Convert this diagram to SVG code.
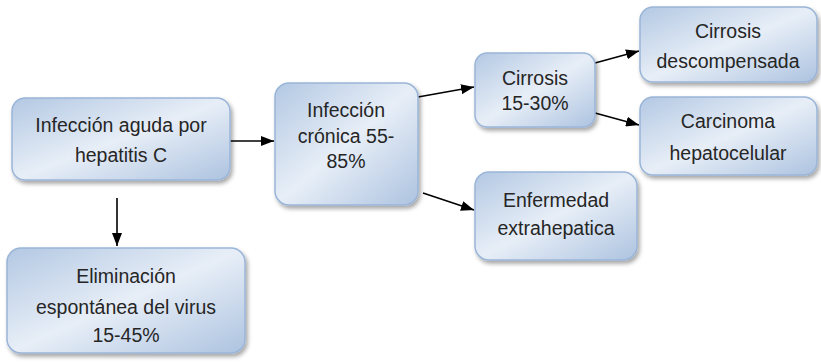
<svg xmlns="http://www.w3.org/2000/svg" width="821" height="363" viewBox="0 0 821 363">
<style>
.box{fill:url(#g);stroke:#9ab5d8;stroke-width:1.5;filter:url(#sh)}
.t{font-family:"Liberation Sans",Arial,sans-serif;font-size:19.5px;fill:#262626;text-anchor:middle}
.c{stroke:#000;stroke-width:1.6;fill:none;marker-end:url(#ah)}
</style>
<defs>
<linearGradient id="g" x1="0" y1="0" x2="1" y2="1">
<stop offset="0" stop-color="#b3c8e3"/>
<stop offset="0.5" stop-color="#e7eef7"/>
<stop offset="1" stop-color="#adc3e0"/>
</linearGradient>
<filter id="sh" x="-10%" y="-10%" width="125%" height="130%">
<feDropShadow dx="2" dy="3" stdDeviation="2" flood-color="#000" flood-opacity="0.35"/>
</filter>
<marker id="ah" markerWidth="13" markerHeight="10" refX="13" refY="5" orient="auto" markerUnits="userSpaceOnUse">
<path d="M0,0 L13,5 L0,10 Z" fill="#000"/>
</marker>
</defs>
<g id="connectors">
<line class="c" x1="230" y1="141" x2="274" y2="141"/>
<line class="c" x1="117" y1="198" x2="117" y2="246"/>
<line class="c" x1="418" y1="97" x2="474" y2="87"/>
<line class="c" x1="595" y1="63" x2="639" y2="51"/>
<line class="c" x1="595" y1="113" x2="639" y2="125"/>
<line class="c" x1="423" y1="193" x2="474" y2="210"/>
</g>
<g id="n1"><rect class="box" x="12" y="98" width="218" height="82" rx="13"/>
<text class="t" x="121" y="132">Infección aguda por</text>
<text class="t" x="121" y="162">hepatitis C</text></g>
<g id="n2"><rect class="box" x="7" y="248" width="238" height="105" rx="14"/>
<text class="t" x="126" y="283">Eliminación</text>
<text class="t" x="126" y="314">espontánea del virus</text>
<text class="t" x="126" y="342">15-45%</text></g>
<g id="n3"><rect class="box" x="275" y="83" width="143" height="122" rx="14"/>
<text class="t" x="346" y="117">Infección</text>
<text class="t" x="346" y="143">crónica 55-</text>
<text class="t" x="346" y="168">85%</text></g>
<g id="n4"><rect class="box" x="475" y="53" width="120" height="74" rx="12"/>
<text class="t" x="535" y="85">Cirrosis</text>
<text class="t" x="535" y="110">15-30%</text></g>
<g id="n5"><rect class="box" x="640" y="7" width="177" height="75" rx="13"/>
<text class="t" x="728" y="38">Cirrosis</text>
<text class="t" x="728" y="68">descompensada</text></g>
<g id="n6"><rect class="box" x="640" y="97" width="177" height="78" rx="13"/>
<text class="t" x="728" y="128">Carcinoma</text>
<text class="t" x="728" y="160">hepatocelular</text></g>
<g id="n7"><rect class="box" x="475" y="172" width="162" height="88" rx="14"/>
<text class="t" x="556" y="207">Enfermedad</text>
<text class="t" x="556" y="235">extrahepatica</text></g>
</svg>
